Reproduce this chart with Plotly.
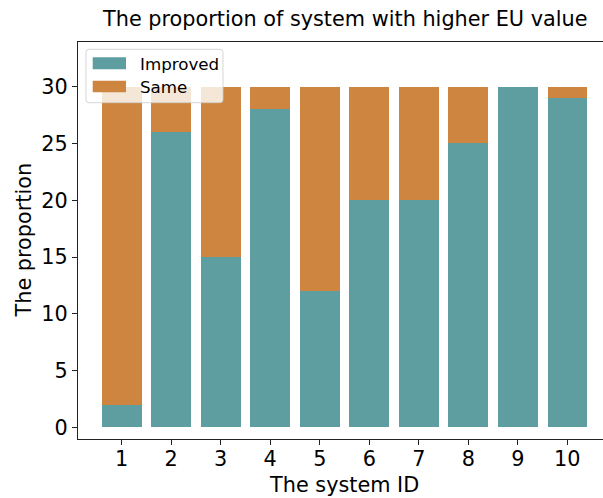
import plotly.graph_objects as go

# System IDs and per-system counts
system_ids = [1, 2, 3, 4, 5, 6, 7, 8, 9, 10]
improved = [2, 26, 15, 28, 12, 20, 20, 25, 30, 29]
same = [28, 4, 15, 2, 18, 10, 10, 5, 0, 1]
y_ticks = [0, 5, 10, 15, 20, 25, 30]

COL_IMPROVED = "#5F9EA0"
COL_SAME = "#CD853F"
FONT = "DejaVu Sans"
BIG = 20.8
SMALL = 16.7

W, H = 603, 498
L, R, T, B = 78, 0, 42, 59
PW, PH = W - L - R, H - T - B


def px_x(x):
    return (x - L) / PW


def px_y(y):
    return (H - B - y) / PH


fig = go.Figure()
fig.add_trace(go.Bar(x=system_ids, y=improved, name="Improved", width=0.8,
                     marker=dict(color=COL_IMPROVED, line=dict(width=0))))
fig.add_trace(go.Bar(x=system_ids, y=same, name="Same", width=0.8,
                     marker=dict(color=COL_SAME, line=dict(width=0))))

axis_common = dict(showgrid=False, zeroline=False, showline=True,
                   linecolor="#222", linewidth=1, ticks="outside",
                   ticklen=5, tickwidth=1, tickcolor="#222",
                   tickfont=dict(family=FONT, size=BIG, color="black"))

fig.update_xaxes(range=[0.1174, 10.721], tickvals=system_ids,
                 mirror=True, ticklabelstandoff=-4, **axis_common)
fig.update_yaxes(range=[-1.03, 33.94], tickvals=y_ticks, **axis_common)

shapes = []
annotations = []

# Legend box drawn over the bars
lx0, lx1, ly0, ly1, rr = 86, 223, 49.3, 102.7, 3
path = (f"M{px_x(lx0 + rr)},{px_y(ly0)} L{px_x(lx1 - rr)},{px_y(ly0)} "
        f"Q{px_x(lx1)},{px_y(ly0)} {px_x(lx1)},{px_y(ly0 + rr)} "
        f"L{px_x(lx1)},{px_y(ly1 - rr)} "
        f"Q{px_x(lx1)},{px_y(ly1)} {px_x(lx1 - rr)},{px_y(ly1)} "
        f"L{px_x(lx0 + rr)},{px_y(ly1)} "
        f"Q{px_x(lx0)},{px_y(ly1)} {px_x(lx0)},{px_y(ly1 - rr)} "
        f"L{px_x(lx0)},{px_y(ly0 + rr)} "
        f"Q{px_x(lx0)},{px_y(ly0)} {px_x(lx0 + rr)},{px_y(ly0)} Z")
shapes.append(dict(type="path", xref="paper", yref="paper", path=path,
                   fillcolor="rgba(255,255,255,0.8)",
                   line=dict(color="rgba(204,204,204,0.8)", width=1),
                   layer="above"))

legend_items = [("Improved", COL_IMPROVED, 57.2, 69.2),
                ("Same", COL_SAME, 80.7, 92.3)]
for label, col, y0, y1 in legend_items:
    shapes.append(dict(type="rect", xref="paper", yref="paper",
                       x0=px_x(92.7), x1=px_x(126), y0=px_y(y1), y1=px_y(y0),
                       fillcolor=col, line=dict(width=0), layer="above"))
    annotations.append(dict(text=label, xref="paper", yref="paper",
                            x=px_x(137.5), y=px_y((y0 + y1) / 2 + 0.3),
                            xanchor="left", yanchor="middle", showarrow=False,
                            font=dict(family=FONT, size=SMALL, color="black")))

# Title and axis titles
annotations.append(dict(text="The proportion of system with higher EU value",
                        xref="paper", yref="paper", x=px_x(344.5), y=px_y(18.9),
                        xanchor="center", yanchor="middle", showarrow=False,
                        font=dict(family=FONT, size=BIG, color="black")))
annotations.append(dict(text="The system ID", xref="paper", yref="paper",
                        x=px_x(344), y=px_y(485), xanchor="center",
                        yanchor="middle", showarrow=False,
                        font=dict(family=FONT, size=BIG, color="black")))
annotations.append(dict(text="The proportion", xref="paper", yref="paper",
                        x=px_x(24.2), y=px_y(240.3), xanchor="center",
                        yanchor="middle", showarrow=False, textangle=-90,
                        font=dict(family=FONT, size=BIG, color="black")))

fig.update_layout(width=W, height=H, barmode="stack", bargap=0.2,
                  margin=dict(l=L, r=R, t=T, b=B, autoexpand=False),
                  plot_bgcolor="white", paper_bgcolor="white",
                  showlegend=False, shapes=shapes, annotations=annotations,
                  font=dict(family=FONT))

fig.write_html("out.html")
